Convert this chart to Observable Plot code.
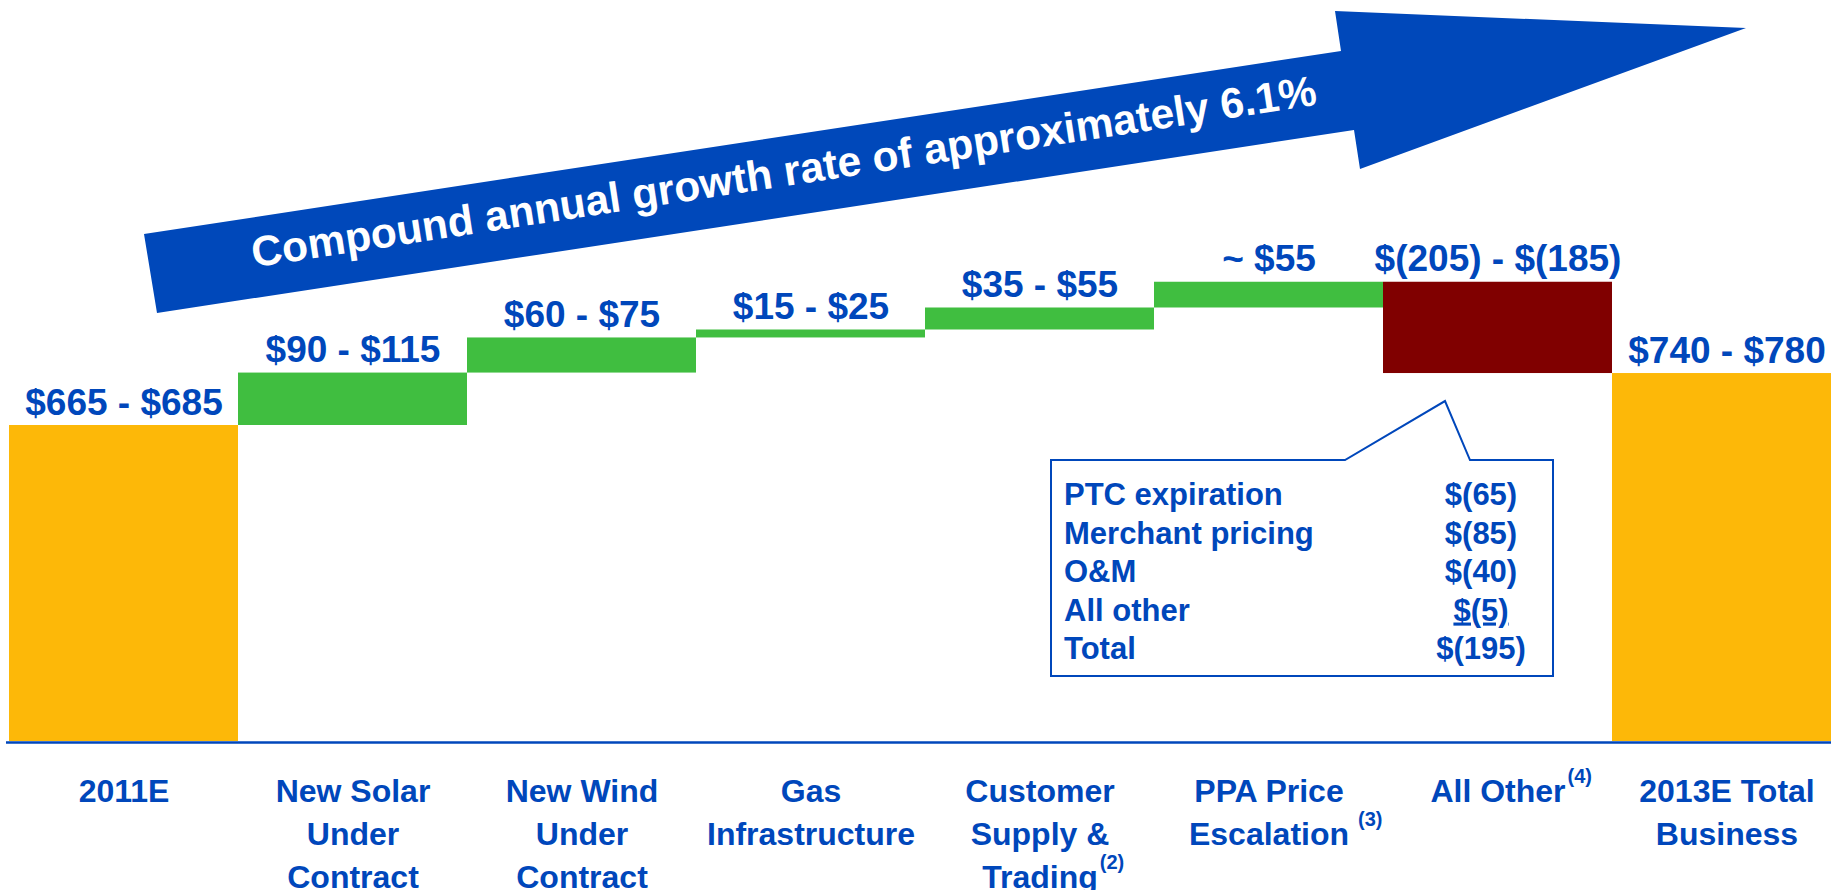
<!DOCTYPE html>
<html>
<head>
<meta charset="utf-8">
<script src="https://cdn.jsdelivr.net/npm/d3@7"></script>
<script src="https://cdn.jsdelivr.net/npm/@observablehq/plot@0.6"></script>
<style>
  html, body { margin: 0; padding: 0; background: #ffffff; overflow: hidden; }
  #chart { width: 1831px; height: 890px; }
</style>
</head>
<body>
<div id="chart"></div>
<script>
// ---------------- data ----------------
const categories = ["2011E", "New Solar Under Contract", "New Wind Under Contract", "Gas Infrastructure",
  "Customer Supply & Trading", "PPA Price Escalation", "All Other", "2013E Total Business"];
const axisLabels = ["2011E", "New Solar\nUnder\nContract", "New Wind\nUnder\nContract", "Gas\nInfrastructure",
  "Customer\nSupply &\nTrading", "PPA Price\nEscalation", "All Other", "2013E Total\nBusiness"];
const footnotes = ["", "", "", "", "(2)", "(3)", "(4)", ""];
const kinds = ["total", "delta", "delta", "delta", "delta", "delta", "delta", "total"];
// bar sizes as drawn ($ millions); the final total is the running sum
const amounts = [675, 112, 75, 17, 47, 55, -195, null];
const valueLabels = ["$665 - $685", "$90 - $115", "$60 - $75", "$15 - $25", "$35 - $55", "~ $55",
  "$(205) - $(185)", "$740 - $780"];
const growthText = "Compound annual growth rate of approximately 6.1%";
const calloutItems = ["PTC expiration", "Merchant pricing", "O&M", "All other", "Total"];
const calloutValues = ["$(65)", "$(85)", "$(40)", "$(5)", "$(195)"];
const calloutUnderlined = [false, false, false, true, false];

// ---------------- table ----------------
let run = 0;
const rows = categories.map((c, i) => {
  let y1, y2;
  if (kinds[i] === "total") {
    if (amounts[i] != null) run = amounts[i];
    y1 = 0; y2 = run;
  } else {
    y1 = run; run += amounts[i]; y2 = run;
  }
  return {
    cat: c, y1, y2, top: Math.max(y1, y2),
    type: kinds[i] === "total" ? "total" : (amounts[i] >= 0 ? "up" : "down"),
    label: valueLabels[i], axis: axisLabels[i], note: footnotes[i]
  };
});

// ---------------- style ----------------
const BLUE = "#0047BB";
const FONT = "'Liberation Sans', Arial, sans-serif";
const Y0 = 741;            // baseline pixel
const K = 316 / 675;       // px per $M
const AX_FS = 32, AX_LH = 43, AX_FIRST = 61;

const canvas = document.createElement("canvas");
const ctx = canvas.getContext("2d");
ctx.font = `bold ${AX_FS}px ${FONT}`;

const noteMarks = rows.filter(r => r.note).map(r => {
  const lines = r.axis.split("\n");
  const L = lines.length - 1;
  const w = ctx.measureText(lines[L]).width;
  const gap = r.note === "(3)" ? 9 : 2;
  return Plot.text([r], {
    x: "cat", y: () => 0, text: "note", textAnchor: "start", lineAnchor: "top",
    dx: w / 2 + gap, dy: AX_FIRST + AX_LH * L - 20 - 0.71 * 20,
    fontSize: 20, fontWeight: "bold", fill: BLUE
  });
});

// growth arrow (annotation)
function growthArrow() {
  const g = d3.create("svg:g");
  const pts = [[144, 234], [1341, 51], [1335, 11], [1746, 28], [1360, 169], [1354, 130], [157, 313]];
  g.append("path").attr("d", "M" + pts.map(p => p.join(",")).join("L") + "Z").attr("fill", "#0048BA");
  g.append("text")
    .attr("transform", "translate(786,186) rotate(-8.69)")
    .attr("text-anchor", "middle")
    .attr("fill", "white")
    .attr("font-family", FONT)
    .attr("font-weight", "bold")
    .attr("font-size", 42.5)
    .text(growthText);
  return g.node();
}

// callout box for All Other (annotation)
function callout(index, scales) {
  const g = d3.create("svg:g");
  const xa = scales.x("All Other");
  const yb = scales.y(rows[6].y2);  // bottom of All Other bar
  const left = xa - 332, right = xa + 170, top = yb + 87, bottom = yb + 303;
  const p1 = xa - 38, apx = xa + 62, apy = yb + 28, p2 = xa + 87;
  g.append("path")
    .attr("d", `M${p1},${top}L${left},${top}L${left},${bottom}L${right},${bottom}L${right},${top}L${p2},${top}L${apx},${apy}Z`)
    .attr("fill", "white").attr("stroke", BLUE).attr("stroke-width", 2);
  calloutItems.forEach((t, i) => {
    const by = top + 45 + i * 38.5;
    g.append("text").attr("x", left + 13).attr("y", by).attr("text-anchor", "start")
      .attr("font-family", FONT).attr("font-weight", "bold").attr("font-size", 31)
      .attr("fill", BLUE).text(t);
    const v = g.append("text").attr("x", left + 430).attr("y", by).attr("text-anchor", "middle")
      .attr("font-family", FONT).attr("font-weight", "bold").attr("font-size", 31)
      .attr("fill", BLUE)
      .text(calloutValues[i]);
    if (calloutUnderlined[i]) {
      v.style("text-decoration", "underline")
       .style("text-decoration-thickness", "3px")
       .style("text-underline-offset", "3px");
    }
  });
  return g.node();
}

const plot = Plot.plot({
  width: 1831,
  height: 890,
  marginTop: 0, marginRight: 0, marginBottom: 0, marginLeft: 6,
  style: {fontFamily: FONT, background: "white"},
  x: {domain: categories, range: [6, 6 + 8 * 229.7], padding: 0, axis: null},
  y: {domain: [0, 800], range: [Y0, Y0 - 800 * K], axis: null},
  color: {domain: ["total", "up", "down"], range: ["#FDB808", "#40BE40", "#800000"]},
  marks: [
    Plot.barY(rows, {x: "cat", y1: "y1", y2: "y2", fill: "type"}),
    Plot.ruleY([0], {stroke: BLUE, strokeWidth: 2.4, dy: 1}),
    Plot.text(rows, {x: "cat", y: "top", text: "label", lineAnchor: "top",
      dy: -11 - 0.71 * 37, fontSize: 37, fontWeight: "bold", fill: BLUE}),
    Plot.text(rows, {x: "cat", y: () => 0, text: "axis", lineAnchor: "top",
      lineHeight: AX_LH / AX_FS, dy: AX_FIRST - 0.71 * AX_LH, fontSize: AX_FS, fontWeight: "bold", fill: BLUE}),
    ...noteMarks,
    growthArrow,
    callout
  ]
});
document.getElementById("chart").appendChild(plot);
</script>
</body>
</html>
